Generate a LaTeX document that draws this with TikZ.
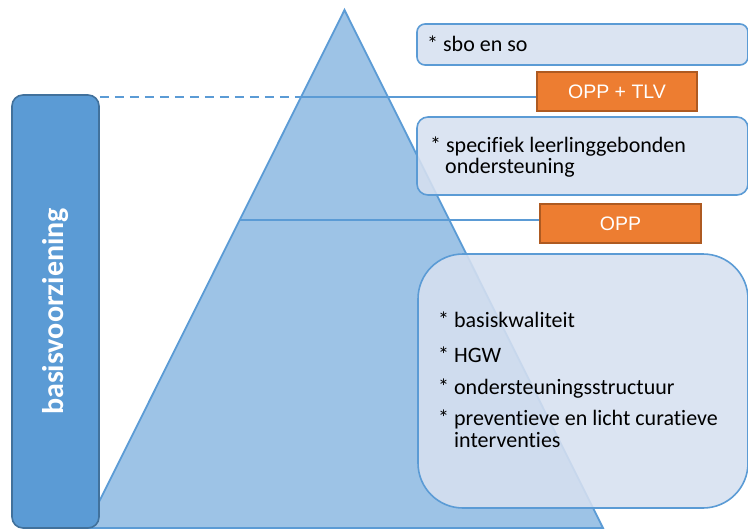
\documentclass[tikz,border=0pt]{standalone}
\usepackage{fontspec}
\setmainfont{Carlito}[Ligatures=NoCommon]
\newfontfamily\arialfont{Liberation Sans}
\usetikzlibrary{calc}
\definecolor{trifill}{HTML}{9DC3E6}
\definecolor{accblue}{HTML}{5B9BD5}
\definecolor{darkblue}{HTML}{41719C}
\definecolor{boxfill}{HTML}{D6E0F0}
\definecolor{orangefill}{HTML}{ED7D31}
\definecolor{orangeline}{HTML}{AE5A21}
\tikzset{
  lightbox/.style={draw=accblue, line width=1.6pt, fill=boxfill, fill opacity=0.88, rectangle, inner sep=0pt},
  orangebox/.style={draw=orangeline, line width=1.4pt, fill=orangefill, rectangle, inner sep=0pt,
     minimum height=39pt, text=white, font=\arialfont\fontsize{19.5}{22}\selectfont},
  leveline/.style={draw=accblue, line width=1.8pt},
  boxtext/.style={anchor=base west, inner sep=0pt, font=\fontsize{22}{26}\selectfont, text=black},
}
\begin{document}
\begin{tikzpicture}[x=1pt,y=-1pt]
\useasboundingbox (0,0) rectangle (748,530);
\clip (0,0) rectangle (748,530);
% pyramid
\coordinate (apex) at (344.5,10);
\coordinate (bl) at (86,528);
\coordinate (br) at (603,528);
\draw[fill=trifill, draw=accblue, line width=1.8pt, line join=miter] (apex) -- (bl) -- (br) -- cycle;
\coordinate (l1) at ($(apex)!{87/518}!(bl)$);
\coordinate (l2) at ($(apex)!{210/518}!(bl)$);
% orange boxes (positions)
\node[orangebox, minimum width=160pt] (opptlv) at (617,91.5) {OPP + TLV};
\node[orangebox, minimum width=161pt] (opp) at (620.5,223.5) {OPP};
% level lines
\draw[leveline] (l1) -- (l1 -| opptlv.west);
\draw[leveline] (l2) -- (l2 -| opp.west);
% basisvoorziening
\node[draw=darkblue, line width=1.6pt, fill=accblue, rounded corners=11pt, rectangle,
      minimum width=87pt, minimum height=433pt, inner sep=0pt] (basis) at (55.5,311.5) {};
\node[rotate=90, text=white, font=\bfseries\fontsize{30}{34}\selectfont] (basistxt) at (basis.center) {basisvoorziening};
\draw[leveline, dashed, dash pattern=on 9pt off 6pt] (l1 -| basis.east) -- (l1);
% light boxes
\node[lightbox, rounded corners=8pt, minimum width=331pt, minimum height=41pt] (sbo) at (582.5,44.5) {};
\node[lightbox, rounded corners=11pt, minimum width=331pt, minimum height=78pt] (spec) at (582.5,156) {};
\node[lightbox, rounded corners=45pt, minimum width=330pt, minimum height=254pt] (big) at (583,381) {};
% orange boxes on top
\node[orangebox, minimum width=160pt] (opptlvtop) at (opptlv) {OPP + TLV};
\node[orangebox, minimum width=161pt] (opptop) at (opp) {OPP};
% texts
\node[boxtext] (t1) at (427,52) {* sbo en so};
\node[boxtext] (t2) at (430,152) {* specifiek leerlinggebonden};
\node[boxtext] (t3) at (445,173) {ondersteuning};
\node[boxtext] (t4) at (438,327) {* basiskwaliteit};
\node[boxtext] (t5) at (438,362) {* HGW};
\node[boxtext] (t6) at (438,394) {* ondersteuningsstructuur};
\node[boxtext] (t7) at (438,425) {* preventieve en licht curatieve};
\node[boxtext] (t8) at (454,447) {interventies};
\end{tikzpicture}
\end{document}
